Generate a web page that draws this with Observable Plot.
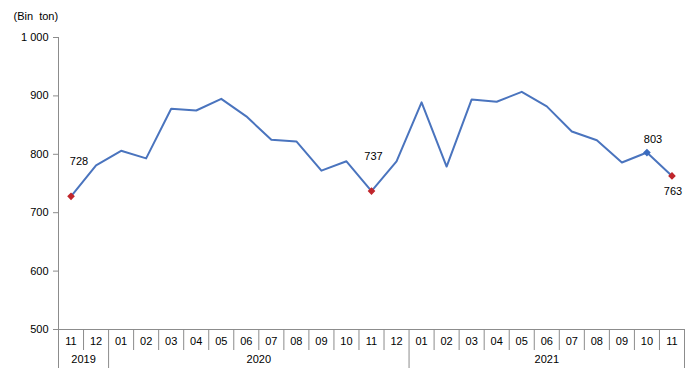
<!DOCTYPE html>
<html><head><meta charset="utf-8">
<script src="https://cdn.jsdelivr.net/npm/d3@7"></script>
<script src="https://cdn.jsdelivr.net/npm/@observablehq/plot@0.6"></script>
<style>body{margin:0;background:#fff;} svg{font-family:"Liberation Sans",Arial,sans-serif;}</style>
</head><body><div id="chart"></div>
<script>
const months = ["11","12","01","02","03","04","05","06","07","08","09","10","11","12","01","02","03","04","05","06","07","08","09","10","11"];
const values = [728,781,806,793,878,875,895,865,825,822,772,788,737,788,889,779,894,890,907,882,839,824,786,803,763];
const years = ["2019","2020","2021"];
const yearStart = [0,2,14];
const yearEnd = [1,13,24];
const yTicks = [500,600,700,800,900,1000];
const redIdx = [0,12,24];
const blueIdx = [23];

const data = values.map((v,i)=>({i, v, m: months[i]}));
const yearData = years.map((y,k)=>({y, x:(yearStart[k]+yearEnd[k])/2}));
const monthSeps = d3.range(0,24).map(i=>i+0.5).filter(x=>!yearStart.includes(x+0.5));
const yearSeps = [...yearStart.map(s=>s-0.5), yearEnd[yearEnd.length-1]+0.5];
const fmt = d => d3.format(",")(d).replace(/,/g," ");
const lineColor = "#4a74be";
const axisColor = "#8c8c8c";

const chart = Plot.plot({
  width: 691, height: 373,
  marginLeft: 58, marginRight: 7, marginTop: 37, marginBottom: 44,
  x: {type:"linear", domain:[-0.5, 24.5]},
  y: {domain:[500,1000]},
  style: {fontSize:"11px", fontFamily:"Liberation Sans, Arial, sans-serif", color:"#000"},
  marks: [
    Plot.axisY({ticks: yTicks, tickFormat: fmt, tickSize: 5, tickPadding: 5, stroke: axisColor, label: null, fill:"#000"}),
    Plot.ruleX([-0.5], {y1: 500, y2: 1000, stroke: axisColor}),
    Plot.axisX({ticks: d3.range(25), tickFormat: i => months[i], tickSize: 0, tickPadding: 8, label: null, fill:"#000"}),
    Plot.ruleY([500], {stroke: axisColor}),
    Plot.ruleX(monthSeps, {y1: 500, y2: 500, insetBottom: -21, stroke: axisColor}),
    Plot.ruleX(yearSeps, {y1: 500, y2: 500, insetBottom: -39, stroke: axisColor}),
    Plot.text(yearData, {x: "x", text: "y", frameAnchor: "bottom", dy: 33, fill: "#000"}),
    Plot.line(data, {x: "i", y: "v", stroke: lineColor, strokeWidth: 2}),
    Plot.dot(data.filter(d=>redIdx.includes(d.i)), {x:"i", y:"v", symbol:"diamond2", r: 2.5, fill:"#c0262c", stroke:"#c0262c"}),
    Plot.dot(data.filter(d=>blueIdx.includes(d.i)), {x:"i", y:"v", symbol:"diamond2", r: 2.5, fill:"#3a6bbf", stroke:"#3a6bbf"}),
    Plot.text(data.filter(d=>d.i===0), {x:"i", y:"v", text: d=>String(d.v), dx: 8, dy: -35, fill:"#000"}),
    Plot.text(data.filter(d=>d.i===12), {x:"i", y:"v", text: d=>String(d.v), dx: 2, dy: -35, fill:"#000"}),
    Plot.text(data.filter(d=>d.i===23), {x:"i", y:"v", text: d=>String(d.v), dx: 6, dy: -13, fill:"#000"}),
    Plot.text(data.filter(d=>d.i===24), {x:"i", y:"v", text: d=>String(d.v), dx: 1, dy: 16, fill:"#000"}),
    Plot.text(["(Bin\u00a0 ton)"], {frameAnchor: "top-left", dx: -45, dy: -25, textAnchor: "start", fill:"#000"})
  ]
});
document.getElementById("chart").appendChild(chart);
</script></body></html>
